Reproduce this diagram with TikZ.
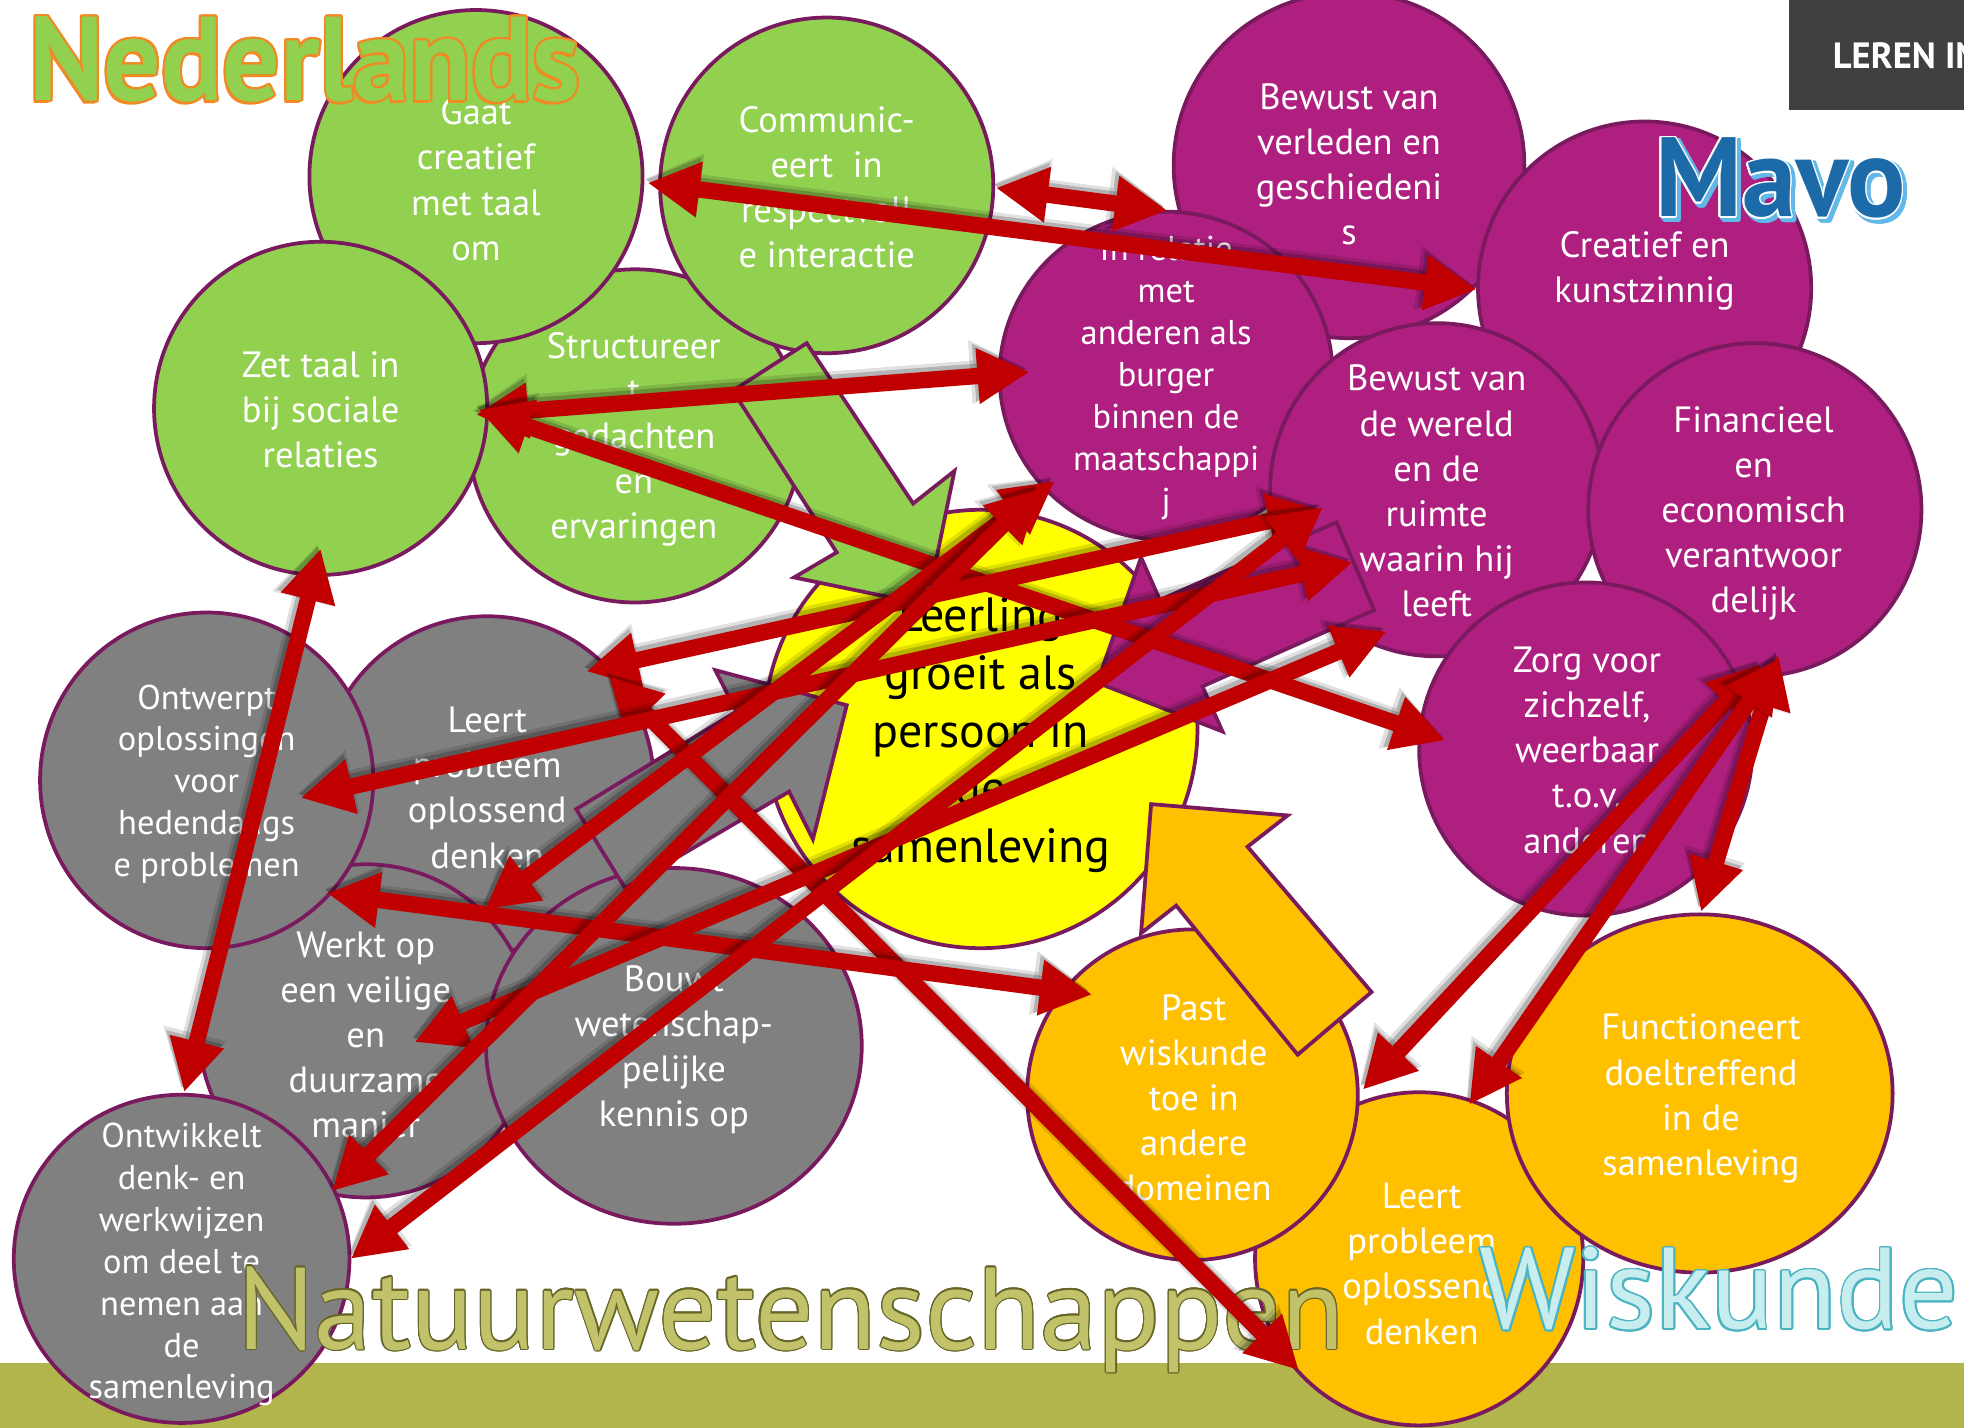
\documentclass[tikz,border=0pt]{standalone}
\usepackage{fontspec}
\setmainfont{PT Sans}
\usepackage{contour}
\usetikzlibrary{shapes.geometric,arrows.meta}
\definecolor{gfill}{HTML}{92D050}
\definecolor{pfill}{HTML}{AF1F80}
\definecolor{grfill}{HTML}{808080}
\definecolor{ofill}{HTML}{FFC000}
\definecolor{yfill}{HTML}{FFFF00}
\definecolor{edge}{HTML}{7A1A5E}
\definecolor{ared}{HTML}{C00000}
\definecolor{band}{HTML}{B1B54B}
\definecolor{boxgrey}{HTML}{404040}
\definecolor{nlorange}{HTML}{F08A24}
\definecolor{mavoblue}{HTML}{1C6BA8}
\definecolor{mavolight}{HTML}{62B8E8}
\definecolor{nwfill}{HTML}{C2C26A}
\definecolor{nwedge}{HTML}{66662A}
\definecolor{wkfill}{HTML}{C7EDEF}
\definecolor{wkedge}{HTML}{4BB4C2}
\newlength\U
\setlength\U{0.6pt}
\newcommand\blob[6]{\node[#6, minimum width={2*#4*\U}, minimum height={2*#5*\U}] (#1) at (#2,#3) {};}
\newcommand\redarrow[2]{\draw[rshadowa] (#1) -- (#2); \draw[rshadowb] (#1) -- (#2); \draw[rarrow] (#1) -- (#2);}
\begin{document}
\begin{tikzpicture}[x=0.6pt,y=-0.6pt,
  blob/.style={ellipse,draw=edge,line width=1.8pt,inner sep=0pt},
  gblob/.style={blob,fill=gfill},
  pblob/.style={blob,fill=pfill},
  grblob/.style={blob,fill=grfill},
  oblob/.style={blob,fill=ofill},
  yblob/.style={blob,fill=yfill},
  txt/.style={text=white,align=center,inner sep=0pt,font=\fontsize{17.5pt}{21.6pt}\selectfont},
  ctxt/.style={txt,font=\fontsize{16.5pt}{20.1pt}\selectfont},
  ytxt/.style={txt,text=black,font=\fontsize{23pt}{27.6pt}\selectfont},
  barrow/.style={draw=edge,line width=1.8pt,line join=miter},
  rarrow/.style={draw=ared,line width=7.8pt,>={Triangle[length=25pt,width=25pt]},<->},
  rshadowa/.style={draw=black,opacity=0.12,line width=11pt,>={Triangle[length=27pt,width=29pt]},<->,transform canvas={shift={(-1.5pt,2pt)}}},
  rshadowb/.style={draw=black,opacity=0.2,line width=8.6pt,>={Triangle[length=25.5pt,width=26pt]},<->,transform canvas={shift={(-1.2pt,1.6pt)}}},
  title/.style={anchor=base west,inner sep=0pt}
]
\useasboundingbox (0,0) rectangle (1568,1140);
\fill[white] (0,0) rectangle (1568,1140);
\fill[band] (0,1088) rectangle (1568,1140);
\fill[boxgrey] (1428,0) rectangle (1568,88);
\begin{scope}
\clip (1428,0) rectangle (1568,88);
\node[anchor=base west,inner sep=0pt,text=white,font=\bfseries\fontsize{17.5pt}{20pt}\selectfont] (leren) at (1463,55) {LEREN IN};
\end{scope}

% green
\blob{g3}{507}{348}{133}{133}{gblob}
\blob{g1}{380}{141}{133}{133}{gblob}
\blob{g2}{660}{148}{133}{134}{gblob}
\blob{g4}{256}{326}{133}{133}{gblob}
% purple
\blob{p1}{1077}{132}{140}{138}{pblob}
\blob{p2}{1313}{230}{133}{133}{pblob}
\blob{p3}{931}{300}{133}{131}{pblob}
\blob{p4}{1147}{391}{133}{133}{pblob}
\blob{p5}{1401}{407}{133}{133}{pblob}
\blob{p6}{1266}{598}{133}{133}{pblob}
% grey
\blob{gr2}{389}{626}{133}{134}{grblob}
\blob{gr3}{292}{823}{133}{133}{grblob}
\blob{gr1}{165}{623}{133}{134}{grblob}
\blob{gr4}{538}{835}{150}{142}{grblob}
\blob{gr5}{145}{1005}{134}{131}{grblob}
% centre
\blob{ye}{783}{582}{173}{175}{yblob}
% orange
\blob{o2}{1133}{1005}{131}{133}{oblob}
\blob{o1}{952}{874}{132}{132}{oblob}
\blob{o3}{1357}{873}{154}{143}{oblob}

% texts
\node[txt] (g1t) at (380,143.5) {Gaat\\creatief\\met taal\\om};
\node[txt] (g2t) at (660,149.5) {Communic-\\eert~ in\\respectvoll\\e interactie};
\node[txt] (g3t) at (506,350.6) {Structureer\\t\\gedachten\\en\\ervaringen};
\node[txt] (g4t) at (256,327) {Zet taal in\\bij sociale\\relaties};
\node[txt] (p1t) at (1077,131) {Bewust van\\verleden en\\geschiedeni\\s};
\node[txt] (p2t) at (1313,216) {Creatief en\\kunstzinnig};
\node[ctxt] (p3t) at (931,302) {In relatie\\met\\anderen als\\burger\\binnen de\\maatschappi\\j};
\node[txt] (p4t) at (1147,392) {Bewust van\\de wereld\\en de\\ruimte\\waarin hij\\leeft};
\node[txt] (p5t) at (1400,410) {Financieel\\en\\economisch\\verantwoor\\delijk};
\node[txt] (p6t) at (1267,599) {Zorg voor\\zichzelf,\\weerbaar\\t.o.v.\\anderen};
\node[ytxt] (yet) at (783,587) {Leerling\\groeit als\\persoon in\\de\\samenleving};
\node[ctxt] (gr1t) at (165,626) {Ontwerpt\\oplossingen\\voor\\hedendaags\\e problemen};
\node[txt] (gr2t) at (389,629) {Leert\\probleem\\oplossend\\denken};
\node[txt] (gr3t) at (292,826) {Werkt op\\een veilige\\en\\duurzame\\manier};
\node[txt] (gr4t) at (538,838) {Bouwt\\wetenschap-\\pelijke\\kennis op};
\node[ctxt] (gr5t) at (145,1009.5) {Ontwikkelt\\denk- en\\werkwijzen\\om deel te\\nemen aan\\de\\samenleving};
\node[txt] (o1t) at (953,876.6) {Past\\wiskunde\\toe in\\andere\\domeinen};
\node[txt] (o2t) at (1135,1009) {Leert\\probleem\\oplossend\\denken};
\node[txt] (o3t) at (1358,877) {Functioneert\\doeltreffend\\in de\\samenleving};

% block arrows
\filldraw[barrow,fill=gfill] (644,274) -- (729,402) -- (762,376) -- (740,483) -- (634,461) -- (668,441) -- (585,312) -- cycle;
\filldraw[barrow,fill=grfill] (460,646) -- (588,568) -- (571,535) -- (676,563) -- (649,670) -- (630,632) -- (499,709) -- cycle;
\filldraw[barrow,fill=pfill] (1067,417) -- (926,479) -- (911,445) -- (876,545) -- (976,584) -- (960,548) -- (1097,487) -- cycle;
\filldraw[barrow,fill=ofill] (919,642) -- (1028,651) -- (996,676) -- (1095,792) -- (1036,842) -- (939,723) -- (911,745) -- cycle;

% titles
\contourlength{0.9pt}
\node[title] (nls) at (21.5,82.5) {\resizebox{440\U}{67\U}{\fontsize{50pt}{60pt}\selectfont\bfseries\color{nlorange}Nederlands}};
\node[title] (nl) at (23,80) {\resizebox{440\U}{67\U}{\fontsize{50pt}{60pt}\selectfont\bfseries\contour{nlorange}{\color{gfill}Nederlands}}};
\contourlength{1.2pt}
\node[title] (mvs) at (1323.5,175.5) {\resizebox{200\U}{63\U}{\fontsize{50pt}{60pt}\selectfont\bfseries\contour{mavolight}{\color{mavolight}Mavo}}};
\contourlength{0.7pt}
\node[title] (mv) at (1321,173) {\resizebox{200\U}{63\U}{\fontsize{50pt}{60pt}\selectfont\bfseries\contour{white}{\color{mavoblue}Mavo}}};
\contourlength{0.5pt}
\node[title] (nw) at (189,1077) {\resizebox{884\U}{66\U}{\fontsize{50pt}{60pt}\selectfont\contour{nwedge}{\color{nwfill}Natuurwetenschappen}}};
\contourlength{0.8pt}
\node[title] (wk) at (1181,1061) {\resizebox{382\U}{65\U}{\fontsize{50pt}{60pt}\selectfont\contour{wkedge}{\color{wkfill}Wiskunde}}};

% red arrows end points
\coordinate (a1) at (517,146);  \coordinate (b1) at (1179,231);
\coordinate (a2) at (795,150);  \coordinate (b2) at (932,168);
\coordinate (a3) at (380,331);  \coordinate (b3) at (822,297);
\coordinate (a4) at (382,327);  \coordinate (b4) at (1154,591);
\coordinate (a5) at (256,438);  \coordinate (b5) at (147,872);
\coordinate (a6) at (1420,523); \coordinate (b6) at (1358,728);
\coordinate (a7) at (1406,530); \coordinate (b7) at (1088,870);
\coordinate (a8) at (1420,526); \coordinate (b8) at (1173,882);
\coordinate (a9) at (468,536);  \coordinate (b9) at (1054,407);
\coordinate (a10) at (486,540); \coordinate (b10) at (1037,1094);
\coordinate (a11) at (240,637); \coordinate (b11) at (1080,449);
\coordinate (a12) at (261,713); \coordinate (b12) at (872,794);
\coordinate (a13) at (387,726); \coordinate (b13) at (842,384);
\coordinate (a14) at (331,832); \coordinate (b14) at (1107,504);
\coordinate (a15) at (265,951); \coordinate (b15) at (830,390);
\coordinate (a16) at (280,1005); \coordinate (b16) at (1056,405);

\redarrow{a1}{b1}
\redarrow{a2}{b2}
\redarrow{a3}{b3}
\redarrow{a4}{b4}
\redarrow{a5}{b5}
\redarrow{a6}{b6}
\redarrow{a7}{b7}
\redarrow{a8}{b8}
\redarrow{a9}{b9}
\redarrow{a10}{b10}
\redarrow{a11}{b11}
\redarrow{a12}{b12}
\redarrow{a13}{b13}
\redarrow{a14}{b14}
\redarrow{a15}{b15}
\redarrow{a16}{b16}
\end{tikzpicture}
\end{document}
